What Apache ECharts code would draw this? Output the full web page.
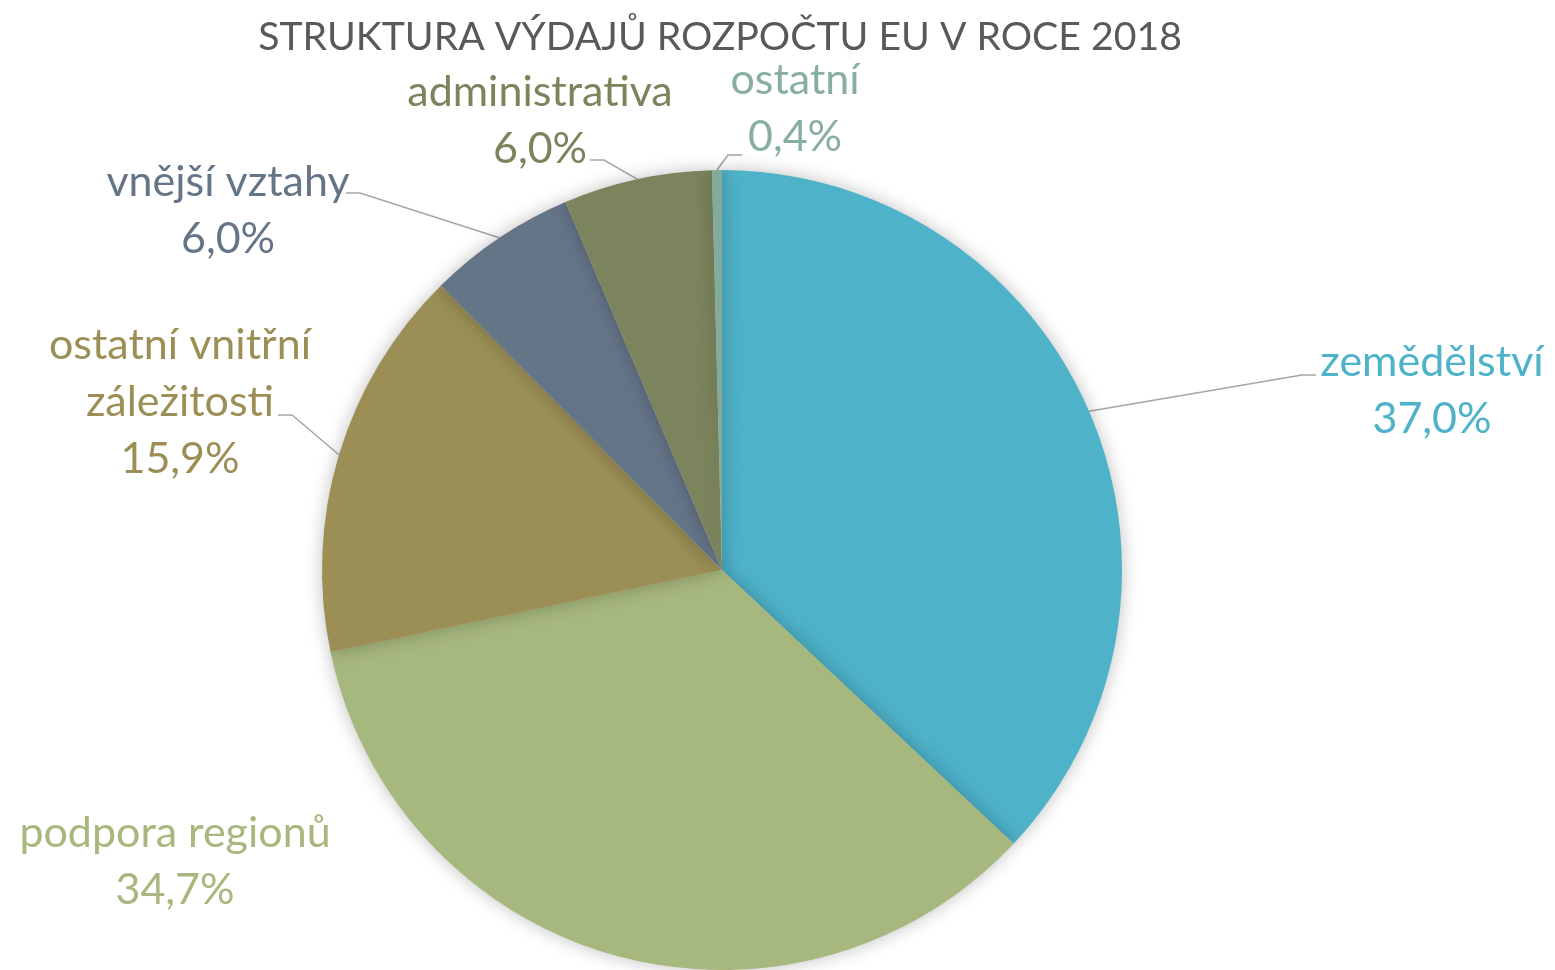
<!DOCTYPE html>
<html>
<head>
  <meta charset="utf-8">
  <script src="https://cdn.jsdelivr.net/npm/echarts@6/dist/echarts.min.js"></script>
</head>
<body style="margin:0;background:#fff;">
<div id="main" style="width:1555px;height:970px;"></div>
<script type="text/javascript">
var categories = ['zemědělství', 'podpora regionů', 'ostatní vnitřní\nzáležitosti', 'vnější vztahy', 'administrativa', 'ostatní'];
var shares = [37.0, 34.7, 15.9, 6.0, 6.0, 0.4];
var colors = ['#4eb2c8', '#a7b87e', '#9b8f56', '#657588', '#7b845c', '#82ab9c'];
var textColors = ['#4eb2c8', '#a7b87e', '#9b8f56', '#657588', '#7b845c', '#88ae9f'];

// where each label block sits (center of text)
var labelSpots = [
  [1432, 391],
  [175, 862],
  [180, 402],
  [228, 211],
  [540, 121],
  [795, 109]
];
// leader end relative to label center: dx, dy, side of the short elbow
var lineEnds = {
  0: [-116, -16, -1],
  2: [98, 13, 1],
  3: [118, -18, 1],
  4: [50, 39, 1],
  5: [-53, 46, -1]
};

var data = categories.map(function (c, i) {
  return {
    name: c,
    value: shares[i],
    itemStyle: { color: colors[i] },
    label: { color: textColors[i] },
    labelLine: { show: i !== 1 }
  };
});

var myChart = echarts.init(document.getElementById('main'));
myChart.setOption({
  animation: false,
  title: {
    text: 'STRUKTURA VÝDAJŮ ROZPOČTU EU V ROCE 2018',
    left: 715,
    textAlign: 'center',
    top: 13,
    textStyle: { fontFamily: 'Lato', fontWeight: 'normal', fontSize: 39.2, color: '#595959' }
  },
  series: [{
    type: 'pie',
    center: [722, 570],
    radius: 400,
    startAngle: 90,
    clockwise: true,
    data: data,
    itemStyle: {
      shadowBlur: 18,
      shadowColor: 'rgba(0,0,0,0.25)'
    },
    label: {
      show: true,
      position: 'outside',
      fontFamily: 'Lato',
      fontSize: 43,
      lineHeight: 57,
      align: 'center',
      formatter: function (p) {
        return p.name + '\n' + p.value.toFixed(1).replace('.', ',') + '%';
      }
    },
    labelLine: {
      lineStyle: { color: '#a6a6a6', width: 1.5 },
      length: 20,
      length2: 20
    },
    labelLayout: function (p) {
      var s = labelSpots[p.dataIndex];
      var res = { x: s[0], y: s[1], align: 'center', verticalAlign: 'middle' };
      var e = lineEnds[p.dataIndex];
      if (e && p.labelLinePoints) {
        var start = p.labelLinePoints[0];
        var end = [s[0] + e[0], s[1] + e[1]];
        res.labelLinePoints = [start, [end[0] + 14 * e[2], end[1]], end];
      }
      return res;
    }
  }]
});
</script>
</body>
</html>
